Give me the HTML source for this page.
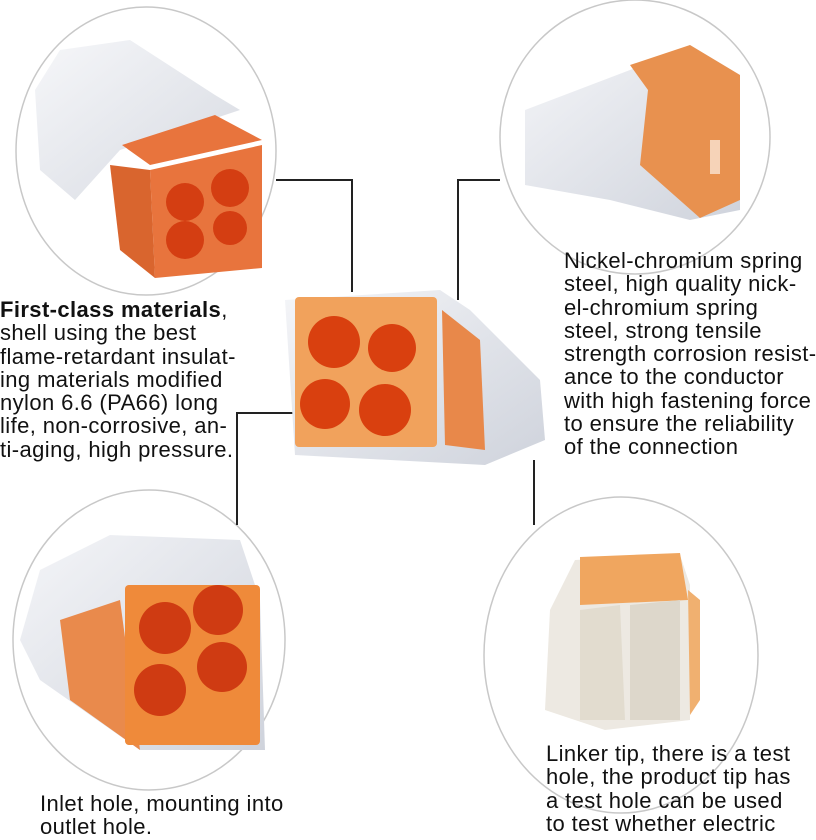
<!DOCTYPE html>
<html><head><meta charset="utf-8"><style>
html,body{margin:0;padding:0;background:#fff;}
body{width:816px;height:840px;position:relative;overflow:hidden;font-family:"Liberation Sans",sans-serif;}
.t{position:absolute;font-size:22px;letter-spacing:0.4px;line-height:23.3px;color:#111;white-space:nowrap;}
</style></head><body>
<svg width="816" height="840" style="position:absolute;left:0;top:0">
<defs>
<linearGradient id="cl" x1="0" y1="0" x2="1" y2="1"><stop offset="0" stop-color="#f4f5f8"/><stop offset="1" stop-color="#cfd3dc"/></linearGradient>
</defs>
<g fill="none" stroke="#c8c8c8" stroke-width="1.5">
<ellipse cx="146" cy="151" rx="130" ry="144"/>
<ellipse cx="635" cy="137" rx="135" ry="137"/>
<ellipse cx="149" cy="640" rx="136" ry="150"/>
<ellipse cx="621" cy="655" rx="137" ry="158"/>
</g>
<g fill="none" stroke="#222" stroke-width="2">
<polyline points="276,180 352,180 352,292"/>
<polyline points="500,180 458,180 458,300"/>
<polyline points="296,413 237,413 237,525"/>
<polyline points="534,460 534,525"/>
</g>
<!-- top-left product -->
<path d="M35,90 L60,50 L130,40 L215,95 L240,110 L120,150 L75,200 L40,170Z" fill="url(#cl)" opacity="0.85"/>
<path d="M122,145 L215,115 L262,140 L150,165Z" fill="#e8743d"/>
<path d="M150,170 L262,145 L262,268 L155,278Z" fill="#e8743d"/>
<path d="M110,165 L150,170 L155,278 L120,250Z" fill="#d9652e"/>
<circle cx="185" cy="202" r="19" fill="#d43e12"/><circle cx="230" cy="188" r="19" fill="#d43e12"/>
<circle cx="185" cy="240" r="19" fill="#d43e12"/><circle cx="230" cy="228" r="17" fill="#d43e12"/>
<!-- top-right product -->
<path d="M525,110 L630,70 L690,45 L740,75 L740,210 L690,220 L610,200 L525,185Z" fill="url(#cl)"/>
<path d="M630,65 L690,45 L740,75 L740,200 L700,218 L640,165 L648,90Z" fill="#e8914f"/>
<rect x="710" y="140" width="10" height="34" fill="#fff" opacity="0.6"/>
<!-- center product -->
<path d="M285,300 L440,290 L470,310 L540,380 L545,440 L485,465 L295,455 Z" fill="url(#cl)"/>
<rect x="295" y="297" width="142" height="150" rx="4" fill="#f1a25c"/>
<path d="M442,310 L480,340 L485,450 L445,445Z" fill="#e8884a"/>
<circle cx="334" cy="342" r="26" fill="#d9400f"/><circle cx="392" cy="348" r="24" fill="#d9400f"/>
<circle cx="325" cy="404" r="25" fill="#d9400f"/><circle cx="385" cy="410" r="26" fill="#d9400f"/>
<!-- bottom-left product -->
<path d="M20,640 L40,570 L110,535 L240,540 L260,600 L265,750 L140,750 L40,680Z" fill="url(#cl)"/>
<path d="M60,620 L120,600 L140,750 L70,700Z" fill="#e98a4c"/>
<rect x="125" y="585" width="135" height="160" rx="4" fill="#ef8a3a"/>
<circle cx="165" cy="628" r="26" fill="#cf3b12"/><circle cx="218" cy="610" r="25" fill="#cf3b12"/>
<circle cx="160" cy="690" r="26" fill="#cf3b12"/><circle cx="222" cy="667" r="25" fill="#cf3b12"/>
<!-- bottom-right product -->
<path d="M575,560 L680,555 L690,585 L690,720 L605,730 L545,710 L550,610Z" fill="#ede9e2"/>
<path d="M580,557 L680,553 L688,600 L580,605Z" fill="#f0a65f"/>
<path d="M688,590 L700,600 L700,700 L690,715Z" fill="#f0b070"/>
<path d="M580,610 L620,605 L625,720 L580,720Z" fill="#e2dccf"/>
<path d="M630,605 L680,600 L680,720 L630,720Z" fill="#ddd7cb"/>
</svg>
<div class="t" style="left:0;top:298px;"><b>First-class materials</b>,<br>shell using the best<br>flame-retardant insulat-<br>ing materials modified<br>nylon 6.6 (PA66) long<br>life, non-corrosive, an-<br>ti-aging, high pressure.</div>
<div class="t" style="left:564px;top:249px;">Nickel-chromium spring<br>steel, high quality nick-<br>el-chromium spring<br>steel, strong tensile<br>strength corrosion resist-<br>ance to the conductor<br>with high fastening force<br>to ensure the reliability<br>of the connection</div>
<div class="t" style="left:40px;top:792px;">Inlet hole, mounting into<br>outlet hole.</div>
<div class="t" style="left:546px;top:742px;">Linker tip, there is a test<br>hole, the product tip has<br>a test hole can be used<br>to test whether electric</div>
</body></html>
